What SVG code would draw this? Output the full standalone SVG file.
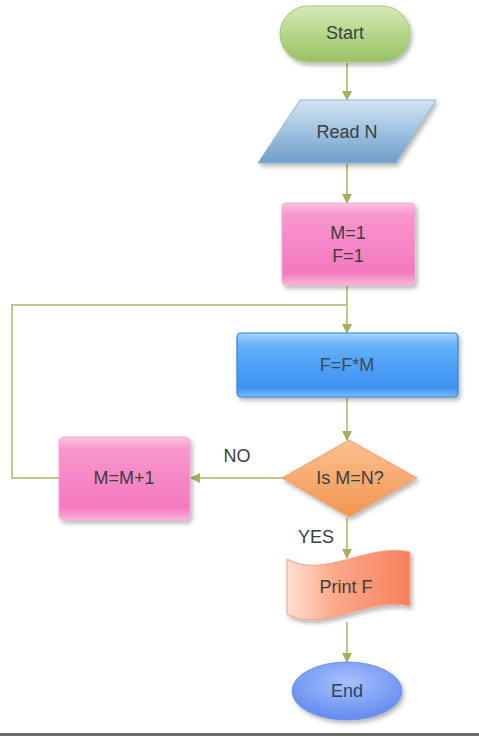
<svg xmlns="http://www.w3.org/2000/svg" width="479" height="736" viewBox="0 0 479 736">
  <defs>
    <filter id="sh" x="-20%" y="-20%" width="150%" height="160%">
      <feDropShadow dx="2" dy="3" stdDeviation="2.2" flood-color="#000" flood-opacity="0.28"/>
    </filter>
    <linearGradient id="gGreen" x1="0" y1="0" x2="0" y2="1">
      <stop offset="0" stop-color="#d6e9b4"/>
      <stop offset="0.5" stop-color="#b4d68a"/>
      <stop offset="1" stop-color="#98c264"/>
    </linearGradient>
    <linearGradient id="gSteel" x1="0" y1="0" x2="0" y2="1">
      <stop offset="0" stop-color="#d2e4f2"/>
      <stop offset="0.5" stop-color="#9ec2e0"/>
      <stop offset="1" stop-color="#6f9fca"/>
    </linearGradient>
    <linearGradient id="gPink" x1="0" y1="0" x2="0" y2="1">
      <stop offset="0" stop-color="#fbc2e2"/>
      <stop offset="0.15" stop-color="#f896cc"/>
      <stop offset="0.85" stop-color="#f479bf"/>
      <stop offset="1" stop-color="#fbb6dc"/>
    </linearGradient>
    <linearGradient id="gBlue" x1="0" y1="0" x2="0" y2="1">
      <stop offset="0" stop-color="#a8d6fc"/>
      <stop offset="0.2" stop-color="#62b0fa"/>
      <stop offset="0.85" stop-color="#3d92f2"/>
      <stop offset="1" stop-color="#7cbcf8"/>
    </linearGradient>
    <linearGradient id="gOrange" x1="0" y1="0" x2="0" y2="1">
      <stop offset="0" stop-color="#fbc090"/>
      <stop offset="1" stop-color="#f29650"/>
    </linearGradient>
    <linearGradient id="gSalmon" x1="0" y1="0" x2="1" y2="0">
      <stop offset="0" stop-color="#fde0d4"/>
      <stop offset="0.4" stop-color="#fba888"/>
      <stop offset="1" stop-color="#f7805c"/>
    </linearGradient>
    <radialGradient id="gEnd" cx="0.5" cy="0.35" r="0.7">
      <stop offset="0" stop-color="#a6c2fc"/>
      <stop offset="1" stop-color="#5e86ee"/>
    </radialGradient>
    <marker id="arr" viewBox="0 0 10 10" refX="9" refY="5" markerWidth="5" markerHeight="5" orient="auto" markerUnits="strokeWidth">
      <path d="M0,0 L10,5 L0,10 z" fill="#a9ad5e"/>
    </marker>
    <style>
      .lbl { font-family: "Liberation Sans", Arial, sans-serif; font-size: 18px; fill: #3d3d3d; text-anchor: middle; }
      .cn { fill: none; stroke: #c2c68e; stroke-width: 2; }
      .ca { marker-end: url(#arr); }
    </style>
  </defs>

  <rect width="479" height="736" fill="#ffffff"/>
  <rect x="0" y="733" width="479" height="3" fill="#6a6a6a"/>

  <g id="connectors">
    <line class="cn ca" x1="347" y1="63" x2="347" y2="100"/>
    <line class="cn ca" x1="347" y1="163" x2="347" y2="203"/>
    <line class="cn ca" x1="347" y1="286" x2="347" y2="333"/>
    <polyline class="cn" points="59,478 12,478 12,305 347,305"/>
    <line class="cn ca" x1="347" y1="398" x2="347" y2="440"/>
    <line class="cn ca" x1="282" y1="478" x2="191" y2="478"/>
    <line class="cn ca" x1="347" y1="518" x2="347" y2="558"/>
    <line class="cn ca" x1="347" y1="622" x2="347" y2="662"/>
    <text class="lbl" x="237" y="462">NO</text>
    <text class="lbl" x="316" y="543">YES</text>
  </g>

  <g id="start">
    <rect x="280" y="6" width="130" height="56" rx="28" fill="url(#gGreen)" stroke="#a6c47a" stroke-width="1" filter="url(#sh)"/>
    <text class="lbl" x="345" y="39">Start</text>
  </g>

  <g id="readN">
    <polygon points="300,100 436,100 396,163 258,163" fill="url(#gSteel)" stroke="#8fb2d2" stroke-width="1" filter="url(#sh)"/>
    <text class="lbl" x="347" y="138">Read N</text>
  </g>

  <g id="init">
    <rect x="282" y="203" width="133" height="82" rx="4" fill="url(#gPink)" stroke="#f3a6d2" stroke-width="1" filter="url(#sh)"/>
    <text class="lbl" x="348" y="239">M=1</text>
    <text class="lbl" x="348" y="262">F=1</text>
  </g>

  <g id="multiply">
    <rect x="237" y="333" width="221" height="64" rx="4" fill="url(#gBlue)" stroke="#2f82e0" stroke-width="1.2" filter="url(#sh)"/>
    <text class="lbl" x="347" y="371" style="fill:#3a4a5e">F=F*M</text>
  </g>

  <g id="increment">
    <rect x="59" y="437" width="131" height="83" rx="5" fill="url(#gPink)" stroke="#f3a6d2" stroke-width="1" filter="url(#sh)"/>
    <text class="lbl" x="124" y="484">M=M+1</text>
  </g>

  <g id="decision">
    <polygon points="349,440 417,478 349,517 282,478" fill="url(#gOrange)" stroke="#eea070" stroke-width="1" filter="url(#sh)"/>
    <text class="lbl" x="350" y="484">Is M=N?</text>
  </g>

  <g id="printF">
    <path d="M287,559 C322,580 370,542 410,552 L410,606 C370,596 322,634 287,614 Z" fill="url(#gSalmon)" stroke="#f4a088" stroke-width="1" filter="url(#sh)"/>
    <text class="lbl" x="346" y="593" style="fill:#4a3a36">Print F</text>
  </g>

  <g id="end">
    <ellipse cx="347" cy="691" rx="55" ry="29" fill="url(#gEnd)" stroke="#6f92ee" stroke-width="1" filter="url(#sh)"/>
    <text class="lbl" x="347" y="697" style="fill:#2f3f66">End</text>
  </g>
</svg>
